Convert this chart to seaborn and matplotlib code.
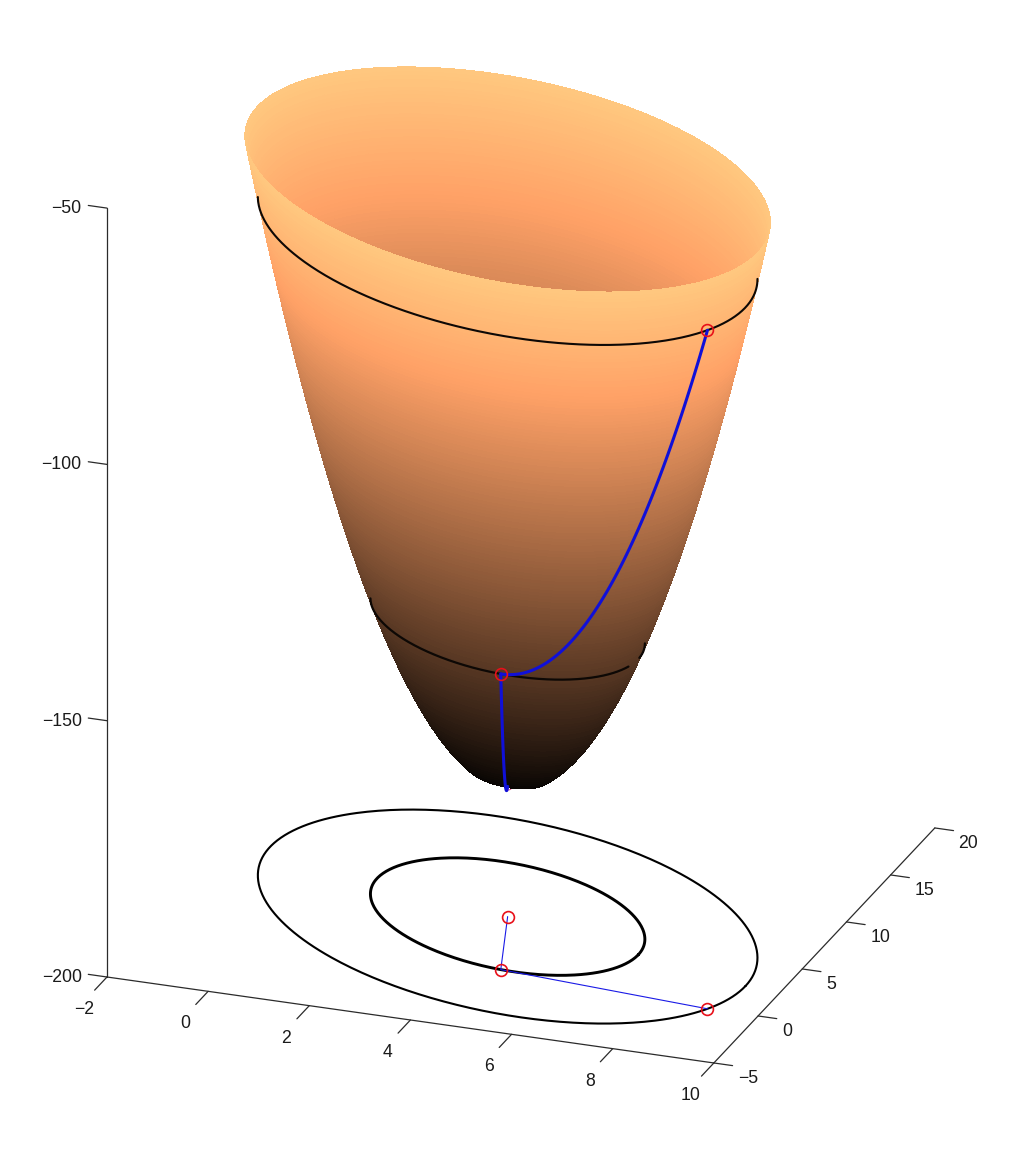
import numpy as np
import matplotlib
matplotlib.use("Agg")
import matplotlib.pyplot as plt
import seaborn as sns
from mpl_toolkits.mplot3d import proj3d

x_ticks = [-2, 0, 2, 4, 6, 8, 10]
y_ticks = [-5, 0, 5, 10, 15, 20]
z_ticks = [-200, -150, -100, -50]

# descent path, start to minimum
path_x = [9.0, 4.75, 4.0]
path_y = [0.0, 0.93, 6.0]

# bowl: z = bowl_min + a dx^2 + 2 b dx dy + c dy^2, fitted to the contours
bowl_min = -174.6
bowl_rim = -56.2
bowl_a, bowl_b, bowl_c = 4.40, 0.907, 1.428

floor_z = -200
tick_color = "#2b2b2b"
label_color = "#1a1a1a"

sns.set_theme(style="white")
plt.rcParams["font.family"] = ["Liberation Sans", "DejaVu Sans"]
copper = sns.color_palette("copper", as_cmap=True)


def bowl_z(x, y):
    dx = np.asarray(x) - path_x[-1]
    dy = np.asarray(y) - path_y[-1]
    return bowl_min + bowl_a * dx**2 + 2 * bowl_b * dx * dy + bowl_c * dy**2


def level_ring(level, theta):
    # ring of the bowl at height level, as x and y
    m = np.linalg.cholesky(np.linalg.inv([[bowl_a, bowl_b], [bowl_b, bowl_c]]))
    r = np.sqrt(level - bowl_min)
    dx = r * (m[0, 0] * np.cos(theta) + m[0, 1] * np.sin(theta))
    dy = r * (m[1, 0] * np.cos(theta) + m[1, 1] * np.sin(theta))
    return path_x[-1] + dx, path_y[-1] + dy


def to_px(x, y, z):
    px, py, _ = proj3d.proj_transform(x, y, z, ax.get_proj())
    return ax.transData.transform(np.column_stack([px, py]))


def front_arc(level):
    # only the part of a ring on the near side of the bowl is drawn
    theta = np.linspace(0, 2 * np.pi, 721)[:-1]
    x, y = level_ring(level, theta)
    pts = to_px(x, y, np.full_like(x, level))
    start = np.argmin(pts[:, 0])
    x, y, pts = np.roll(x, -start), np.roll(y, -start), np.roll(pts, -start, axis=0)
    end = np.argmax(pts[:, 0])
    if pts[:end, 1].mean() < pts[end:, 1].mean():
        return x[:end + 1], y[:end + 1]
    return np.r_[x[end:], x[0]], np.r_[y[end:], y[0]]


def label(x, y, z, text, ha):
    # placed as 2D text at the projected spot of the 3D position
    px, py, _ = proj3d.proj_transform(x, y, z, ax.get_proj())
    ax.text2D(px, py, str(text).replace("-", "\u2212"), transform=ax.transData, ha=ha, va="center",
              fontsize=12.7, color=label_color)


fig = plt.figure(figsize=(10.24, 11.49), dpi=100)
fig.patch.set_facecolor("white")
pos = [-0.061, 0.0, 1.122, 1.0]
ax = fig.add_axes(pos, projection="3d", proj_type="ortho", computed_zorder=False)
ax.view_init(elev=22.84, azim=-69.95)
ax.set_xlim(-2, 10, view_margin=0)
ax.set_ylim(-5, 20, view_margin=0)
ax.set_zlim(-200, -50, view_margin=0)
aspect = (646, 644.5, 834.3)
ax.set_box_aspect(aspect)
ax.set_axis_off()
ax.apply_aspect()

# fit the box to where its corners sit in the picture
span = to_px(-2, -5, -50)[0, 1] - to_px(-2, -5, -200)[0, 1]
ax.set_box_aspect(aspect, zoom=768.9 / span)
shift = np.array([107, 1149 - 977]) - to_px(-2, -5, -200)[0]
pos = [pos[0] + shift[0] / 1024, pos[1] + shift[1] / 1149, pos[2], pos[3]]
ax.set_position(pos)
ax.apply_aspect()

# axis lines, ticks and labels
ax.plot([-2, 10], [-5, -5], [floor_z, floor_z], color=tick_color, lw=0.9, zorder=1)
ax.plot([10, 10], [-5, 20], [floor_z, floor_z], color=tick_color, lw=0.9, zorder=1)
ax.plot([-2, -2], [-5, -5], [floor_z, -50], color=tick_color, lw=0.9, zorder=1)
for v in x_ticks:
    ax.plot([v, v], [-5, -6.4], [floor_z, floor_z], color=tick_color, lw=0.9, zorder=1)
    label(v, -7.6, floor_z - 1.6, v, "center")
for v in y_ticks:
    ax.plot([10, 10.37], [v, v], [floor_z, floor_z], color=tick_color, lw=0.9, zorder=1)
    label(10.47, v, floor_z - 2.4, v, "left")
for v in z_ticks:
    ax.plot([-2, -2.37], [-5, -5], [v, v], color=tick_color, lw=0.9, zorder=1)
    label(-2.5, -5, v - 0.8, v, "right")

# floor: contours, path and points
theta = np.linspace(0, 2 * np.pi, 361)
z_start, z_mid = bowl_z(path_x[0], path_y[0]), bowl_z(path_x[1], path_y[1])
ox, oy = level_ring(z_start, theta)
ix, iy = level_ring(z_mid, theta)
ax.plot(ox, oy, np.full_like(ox, floor_z), color="black", lw=1.5, zorder=2)
ax.plot(ix, iy, np.full_like(ix, floor_z), color="black", lw=2.1, zorder=2)
ax.plot(path_x, path_y, [floor_z] * 3, color="#1a1ae6", lw=0.8, zorder=2)
ax.plot(path_x, path_y, [floor_z] * 3, ls="none", marker="o", ms=8.5, mfc="none",
        mec="#e8101a", mew=1.2, zorder=3)

# point under the bowl, only its lower edge shows
ax.plot(path_x[-1:], path_y[-1:], [bowl_min], ls="none", marker="o", ms=5, mfc="none",
        mec="#e85090", mew=0.7, zorder=3)

# bowl surface, a coarse first ring keeps the tip blunt as in the picture
levels = np.r_[0, np.linspace(3, bowl_rim - bowl_min, 170)]
angles = np.linspace(0, 2 * np.pi, 241)
xs = np.empty((len(levels), len(angles)))
ys = np.empty_like(xs)
for i, lev in enumerate(levels):
    xs[i], ys[i] = level_ring(bowl_min + lev, angles)
ax.plot_surface(xs, ys, bowl_z(xs, ys), rstride=1, cstride=1, cmap=copper,
                vmin=bowl_min, vmax=bowl_rim, linewidth=0, antialiased=False,
                shade=False, zorder=4)

# contours on the bowl
for level, lw in [(z_start, 1.5), (z_mid, 1.6)]:
    cx, cy = front_arc(level)
    cz = np.full_like(cx, level)
    # the lower ring sinks under the surface just before its right end
    if level == z_mid:
        hidden = (to_px(cx, cy, cz)[:, 0] > 629) & (to_px(cx, cy, cz)[:, 0] < 639)
        cz[hidden] = np.nan
    ax.plot(cx, cy, cz, color="#0d0805", lw=lw, zorder=5)

# descent path on the bowl
for i in range(2):
    px = np.linspace(path_x[i], path_x[i + 1], 80)
    py = np.linspace(path_y[i], path_y[i + 1], 80)
    ax.plot(px, py, bowl_z(px, py), color="#1010d8", lw=2.2, zorder=6)
ax.plot(path_x[:2], path_y[:2], bowl_z(path_x[:2], path_y[:2]), ls="none", marker="o", ms=8.5,
        mfc="none", mec="#e8101a", mew=1.2, zorder=7)

fig.savefig("out.png", dpi=100, facecolor="white")
